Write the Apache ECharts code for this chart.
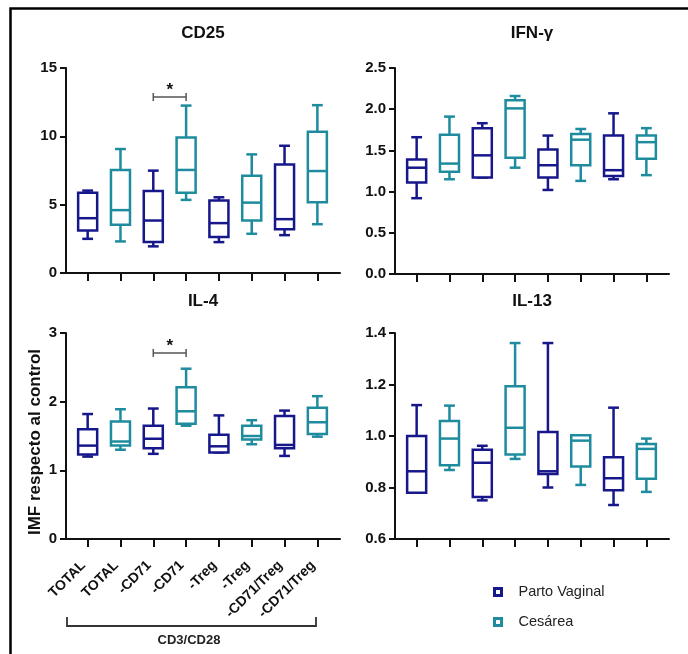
<!DOCTYPE html>
<html>
<head>
<meta charset="utf-8">
<script src="https://cdn.jsdelivr.net/npm/echarts@6/dist/echarts.min.js"></script>
<style>
  html, body { margin: 0; padding: 0; background: #fff; }
  #chart { width: 688px; height: 654px; }
</style>
</head>
<body>
<div id="chart"></div>
<script>
// categorias del eje x (pares Parto Vaginal / Cesárea)
var categories = ['TOTAL', 'TOTAL', '-CD71', '-CD71', '-Treg', '-Treg', '-CD71/Treg', '-CD71/Treg'];
var groups = ['Parto Vaginal', 'Cesárea'];

// [min, q1, mediana, q3, max] por caja
var cd25 = [
  [2.5, 3.11, 4.01, 5.88, 6.03],
  [2.31, 3.53, 4.6, 7.54, 9.07],
  [1.95, 2.26, 3.84, 6.0, 7.49],
  [5.35, 5.88, 7.54, 9.92, 12.25],
  [2.26, 2.63, 3.65, 5.3, 5.54],
  [2.87, 3.84, 5.15, 7.12, 8.68],
  [2.77, 3.21, 3.94, 7.93, 9.31],
  [3.57, 5.18, 7.46, 10.33, 12.28]
];
var ifng = [
  [0.92, 1.11, 1.29, 1.39, 1.66],
  [1.15, 1.24, 1.34, 1.69, 1.91],
  [1.17, 1.17, 1.44, 1.77, 1.83],
  [1.29, 1.41, 2.01, 2.11, 2.16],
  [1.02, 1.17, 1.32, 1.51, 1.68],
  [1.13, 1.32, 1.63, 1.70, 1.76],
  [1.15, 1.19, 1.26, 1.68, 1.95],
  [1.20, 1.40, 1.60, 1.68, 1.77]
];
var il4 = [
  [1.20, 1.23, 1.36, 1.60, 1.82],
  [1.30, 1.36, 1.42, 1.71, 1.89],
  [1.24, 1.32, 1.46, 1.65, 1.90],
  [1.65, 1.68, 1.86, 2.21, 2.48],
  [1.26, 1.26, 1.35, 1.52, 1.80],
  [1.38, 1.45, 1.50, 1.65, 1.73],
  [1.21, 1.32, 1.37, 1.79, 1.87],
  [1.49, 1.53, 1.70, 1.91, 2.08]
];
var il13 = [
  [0.78, 0.78, 0.863, 1.0, 1.12],
  [0.868, 0.886, 0.99, 1.058, 1.118],
  [0.75, 0.763, 0.896, 0.947, 0.962],
  [0.911, 0.928, 1.032, 1.193, 1.361],
  [0.80, 0.852, 0.863, 1.016, 1.361],
  [0.81, 0.882, 0.982, 1.003, 1.003],
  [0.732, 0.789, 0.836, 0.917, 1.11],
  [0.783, 0.834, 0.95, 0.969, 0.99]
];

// significancia: [x1, x2, y]
var sigCD25 = [2, 3, 12.88];
var sigIL4 = [2, 3, 2.71];

var panels = [
  { title: 'CD25', data: cd25, min: 0, max: 15, interval: 5, dec: 0, sig: sigCD25 },
  { title: 'IFN-\u03b3', data: ifng, min: 0, max: 2.5, interval: 0.5, dec: 1 },
  { title: 'IL-4', data: il4, min: 0, max: 3, interval: 1, dec: 0, sig: sigIL4 },
  { title: 'IL-13', data: il13, min: 0.6, max: 1.4, interval: 0.2, dec: 1 }
];

var colors = ['#17178c', '#1e8c9e'];
var font = "'Liberation Sans', Arial, sans-serif";
var ink = '#111';

var grids = [
  { left: 66, top: 68, width: 274, height: 205 },
  { left: 395, top: 68, width: 274, height: 206 },
  { left: 66, top: 333, width: 274, height: 206 },
  { left: 395, top: 333, width: 274, height: 206 }
];
var titlePos = [[203, 25], [532, 25], [203, 293], [532, 293]];

var tickIdx = categories.map(function (c, i) { return i; });

function boxItem(color) {
  return function (params, api) {
    var x = api.value(0);
    var lo = api.coord([x, api.value(1)]);
    var q1 = api.coord([x, api.value(2)]);
    var md = api.coord([x, api.value(3)]);
    var q3 = api.coord([x, api.value(4)]);
    var hi = api.coord([x, api.value(5)]);
    var unit = api.size([1, 0])[0];
    var bw = unit * 0.29, cw = unit * 0.165;
    var st = { stroke: color, lineWidth: 2.5, fill: null };
    return {
      type: 'group',
      children: [
        { type: 'line', shape: { x1: lo[0], y1: lo[1], x2: q1[0], y2: q1[1] }, style: st },
        { type: 'line', shape: { x1: q3[0], y1: q3[1], x2: hi[0], y2: hi[1] }, style: st },
        { type: 'line', shape: { x1: lo[0] - cw, y1: lo[1], x2: lo[0] + cw, y2: lo[1] }, style: st },
        { type: 'line', shape: { x1: hi[0] - cw, y1: hi[1], x2: hi[0] + cw, y2: hi[1] }, style: st },
        { type: 'rect', shape: { x: q1[0] - bw, y: q3[1], width: bw * 2, height: q1[1] - q3[1] }, style: { stroke: color, lineWidth: 2.5, fill: '#fff' } },
        { type: 'line', shape: { x1: md[0] - bw, y1: md[1], x2: md[0] + bw, y2: md[1] }, style: st }
      ]
    };
  };
}

function sigItem(params, api) {
  var a = api.coord([api.value(0), api.value(2)]);
  var b = api.coord([api.value(1), api.value(2)]);
  var st = { stroke: '#555', lineWidth: 1.5 };
  return {
    type: 'group',
    children: [
      { type: 'line', shape: { x1: a[0], y1: a[1], x2: b[0], y2: b[1] }, style: st },
      { type: 'line', shape: { x1: a[0], y1: a[1] - 4, x2: a[0], y2: a[1] + 4 }, style: st },
      { type: 'line', shape: { x1: b[0], y1: b[1] - 4, x2: b[0], y2: b[1] + 4 }, style: st },
      { type: 'text', x: (a[0] + b[0]) / 2, y: a[1] - 7, style: { text: '*', fontSize: 17, fontWeight: 'bold', fontFamily: font, fill: ink, align: 'center', verticalAlign: 'middle' } }
    ]
  };
}

var xAxes = [], yAxes = [], series = [], titles = [];
panels.forEach(function (p, k) {
  titles.push({
    text: p.title, left: titlePos[k][0], top: titlePos[k][1], textAlign: 'center', padding: 0,
    textStyle: { fontSize: 17, fontWeight: 'bold', color: ink, fontFamily: font }
  });
  xAxes.push({
    type: 'value', gridIndex: k, min: -0.66, max: 7.69,
    axisLine: { show: true, onZero: false, lineStyle: { color: ink, width: 2 } },
    axisTick: { show: true, customValues: tickIdx, length: 8, lineStyle: { color: ink, width: 2 } },
    axisLabel: {
      show: k === 2, customValues: tickIdx, rotate: 45, margin: 20, padding: [0, 6, 0, 0],
      fontSize: 14, fontWeight: 'bold', color: ink, fontFamily: font,
      formatter: function (v) { return categories[Math.round(v)]; }
    },
    splitLine: { show: false }
  });
  yAxes.push({
    type: 'value', gridIndex: k, min: p.min, max: p.max, interval: p.interval,
    axisLine: { show: true, onZero: false, lineStyle: { color: ink, width: 2 } },
    axisTick: { show: true, length: 6, lineStyle: { color: ink, width: 2 } },
    axisLabel: {
      margin: 9, fontSize: 15, fontWeight: 'bold', color: ink, fontFamily: font,
      formatter: function (v) { return v.toFixed(p.dec); }
    },
    splitLine: { show: false }
  });
  groups.forEach(function (g, gi) {
    var rows = [];
    p.data.forEach(function (d, i) {
      if (i % 2 === gi) rows.push([i].concat(d));
    });
    series.push({
      type: 'custom', name: g, xAxisIndex: k, yAxisIndex: k,
      renderItem: boxItem(colors[gi]),
      itemStyle: { color: colors[gi] },
      encode: { x: 0, y: [1, 2, 3, 4, 5] },
      data: rows, z: 3
    });
  });
  if (p.sig) {
    series.push({
      type: 'custom', xAxisIndex: k, yAxisIndex: k,
      renderItem: sigItem, encode: { x: [0, 1], y: 2 },
      data: [p.sig], z: 4, silent: true
    });
  }
});

var myChart = echarts.init(document.getElementById('chart'), null, { renderer: 'canvas' });
myChart.setOption({
  animation: false,
  backgroundColor: '#fff',
  title: titles,
  grid: grids,
  xAxis: xAxes,
  yAxis: yAxes,
  series: series,
  legend: {
    orient: 'vertical', left: 488, top: 579, itemGap: 14,
    itemWidth: 7, itemHeight: 7, icon: 'rect',
    textStyle: { fontSize: 14.5, color: '#222', fontFamily: font, lineHeight: 16, padding: [0, 0, 0, 12] },
    data: [
      { name: groups[0], itemStyle: { color: '#fff', borderColor: colors[0], borderWidth: 3 } },
      { name: groups[1], itemStyle: { color: '#fff', borderColor: colors[1], borderWidth: 3 } }
    ]
  },
  graphic: [
    { type: 'polyline', shape: { points: [[10.5, 654], [10.5, 8.5], [688, 8.5]] }, style: { stroke: '#000', lineWidth: 2.5, fill: null } },
    { type: 'text', x: 35, y: 442, rotation: Math.PI / 2, style: { text: 'IMF respecto al control', fontSize: 17, fontWeight: 'bold', fontFamily: font, fill: ink, align: 'center', verticalAlign: 'middle' } },
    { type: 'polyline', shape: { points: [[67, 617], [67, 626], [316, 626], [316, 617]] }, style: { stroke: '#333', lineWidth: 1.8, fill: null } },
    { type: 'text', x: 189, y: 640, style: { text: 'CD3/CD28', fontSize: 13, fontWeight: 'bold', fontFamily: font, fill: '#222', align: 'center', verticalAlign: 'middle' } }
  ]
});
</script>
</body>
</html>
